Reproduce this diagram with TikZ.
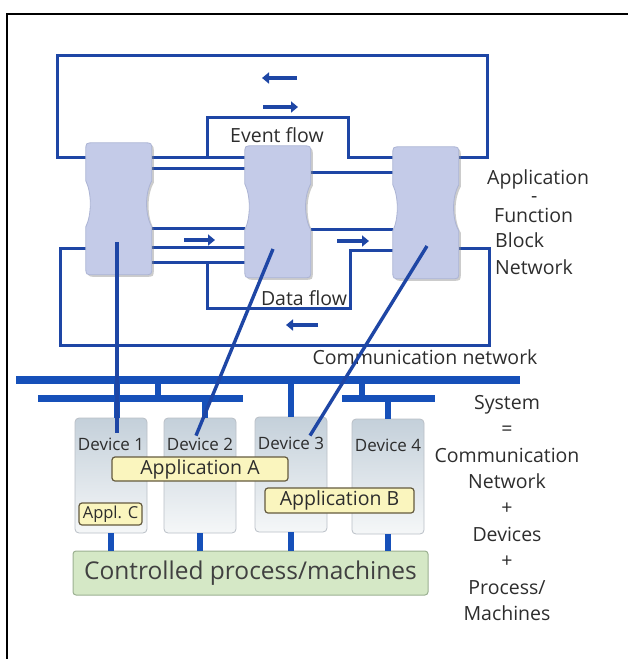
\documentclass[tikz,border=0pt]{standalone}
\usepackage{fontspec}
\setmainfont{Open Sans}
\usetikzlibrary{arrows.meta, positioning, shadows}

\definecolor{netblue}{RGB}{30,70,165}
\definecolor{busblue}{RGB}{22,80,185}
\definecolor{fbfill}{RGB}{196,203,232}
\definecolor{fbline}{RGB}{172,180,212}
\definecolor{devtop}{RGB}{196,208,218}
\definecolor{devbot}{RGB}{245,247,248}
\definecolor{devline}{RGB}{185,191,198}
\definecolor{appfill}{RGB}{250,245,190}
\definecolor{appline}{RGB}{100,90,62}
\definecolor{procfill}{RGB}{213,232,198}
\definecolor{procline}{RGB}{155,176,145}
\definecolor{txtgrey}{RGB}{45,45,45}

\tikzset{
  fbbox/.style={rectangle, draw=none, inner sep=0pt, minimum width=66pt, minimum height=132pt},
  fbshape/.style={fill=fbfill, draw=fbline, line width=0.8pt,
    drop shadow={opacity=0.4, shadow xshift=2pt, shadow yshift=-2pt}},
  flow/.style={netblue, line width=3pt},
  flowarrow/.style={netblue, line width=4pt, -{Triangle[length=7pt, width=11pt]}},
  link/.style={netblue, line width=3.4pt},
  bus/.style={busblue, line width=8pt},
  lan/.style={busblue, line width=7pt},
  stub/.style={busblue, line width=6pt},
  lbl/.style={text=txtgrey, inner sep=0pt, font=\fontsize{19.5}{23}\selectfont},
  device/.style={rectangle, rounded corners=4pt, draw=devline, line width=0.8pt,
    top color=devtop, bottom color=devbot, minimum width=72pt, minimum height=115pt},
  devlbl/.style={text=txtgrey, inner sep=0pt, font=\fontsize{17}{19}\selectfont},
  app/.style={rectangle, rounded corners=3pt, draw=appline, line width=1.2pt, fill=appfill,
    text=txtgrey, inner sep=0pt, font=\fontsize{19.5}{21}\selectfont},
  proc/.style={rectangle, rounded corners=3pt, draw=procline, line width=1pt, fill=procfill,
    text=black!75, inner sep=0pt, minimum width=355pt, minimum height=44pt,
    font=\fontsize{24.5}{27}\selectfont}
}

\begin{document}
\begin{tikzpicture}[x=1pt, y=-1pt]
    \useasboundingbox (0,0) rectangle (628,659);
    % frame
    \draw[black, line width=2.5pt] (7,659) -- (7,14) -- (628,14);

    % function blocks
    \node[fbbox] (fb1) at (119,209) {};
    \node[fbbox] (fb2) at (278,212) {};
    \node[fbbox] (fb3) at (426,213) {};

    % event flow connections
    \draw[flow] (fb1.west |- 0,157) -- (57,157) -- (57,55) -- (487,55) -- (487,157) -- (fb3.east |- 0,157);
    \draw[flow] (fb1.east |- 0,157) -- (fb2.west |- 0,157);
    \draw[flow] (fb1.east |- 0,168) -- (fb2.west |- 0,168);
    \draw[flow] (207,157) -- (207,117) -- (348,117) -- (348,157) -- (fb3.west |- 0,157);
    \draw[flow] (fb2.east |- 0,172) -- (fb3.west |- 0,172);

    % data flow connections
    \draw[flow] (fb1.east |- 0,228) -- (fb2.west |- 0,228);
    \draw[flow] (fb1.east |- 0,247) -- (fb2.west |- 0,247);
    \draw[flow] (fb1.east |- 0,262) -- (fb2.west |- 0,262);
    \draw[flow] (207,262) -- (207,308) -- (350,308) -- (350,250) -- (fb3.west |- 0,250);
    \draw[flow] (fb2.east |- 0,229) -- (fb3.west |- 0,229);
    \draw[flow] (fb1.west |- 0,248) -- (60,248) -- (60,345) -- (489,345) -- (489,248) -- (fb3.east |- 0,248);

    % direction arrows
    \draw[flowarrow] (297,78) -- (262,78);
    \draw[flowarrow] (263,107) -- (298,107);
    \draw[flowarrow] (184,240) -- (215,240);
    \draw[flowarrow] (337,241) -- (369,241);
    \draw[flowarrow] (318,325) -- (286,325);

    % block outlines
    \foreach \n in {fb1,fb2,fb3}{
      \begin{scope}[shift={(\n.north west)}]
        \path[fbshape] (0,8) -- (0,38) .. controls (6,50) and (6,72) .. (0,84) -- (0,124)
          .. controls (0,132) .. (8,132) -- (58,132) .. controls (66,132) .. (66,124)
          -- (66,84) .. controls (59,72) and (59,50) .. (66,38) -- (66,8)
          .. controls (66,0) .. (58,0) -- (8,0) .. controls (0,0) .. (0,8) -- cycle;
      \end{scope}
    }

    % flow labels
    \node[lbl] (evlbl) at (277,135) {Event flow};
    \node[lbl] (dflbl) at (304,298) {Data flow};
    \node[lbl, anchor=north west, align=left] (fbnlbl) at (487,169)
      {Application\\[-5pt]\hspace*{44pt}-\\[-3pt]\hspace*{7pt}Function\\[2pt]\hspace*{8pt}Block\\[4pt]\hspace*{8pt}Network};

    % communication network
    \node[lbl] (netlbl) at (425,357) {Communication network};
    \coordinate (busW) at (16,380);
    \coordinate (busE) at (520,380);
    \coordinate (lanW) at (38,398);
    \coordinate (lanWe) at (243,398);
    \coordinate (lanE) at (342,398);
    \coordinate (lanEe) at (435,398);
    \draw[bus] (busW) -- (busE);
    \draw[lan] (lanW) -- (lanWe);
    \draw[lan] (lanE) -- (lanEe);
    \draw[stub] (158,380) -- (158,398);
    \draw[stub] (362,380) -- (362,398);

    % devices
    \node[device] (dev1) at (111,475.5) {};
    \node[device] (dev2) at (200,475.5) {};
    \node[device] (dev3) at (291,474.5) {};
    \node[device] (dev4) at (388,476.5) {};
    \foreach \d/\t in {dev1/Device 1,dev2/Device 2,dev3/Device 3,dev4/Device 4}
      \node[devlbl] (\d lbl) at ([yshift=-27pt]\d.north) {\t};

    \draw[stub] ([xshift=6pt]dev1.north) -- ([xshift=6pt]dev1.north |- busW);
    \draw[stub] ([xshift=5pt]dev2.north) -- ([xshift=5pt]dev2.north |- lanW);
    \draw[stub] (dev3.north) -- (dev3.north |- busW);
    \draw[stub] (dev4.north) -- (dev4.north |- lanE);

    % applications
    \node[app, minimum width=176pt, minimum height=24pt] (appA) at (200,469) {Application A};
    \node[app, minimum width=149pt, minimum height=25pt] (appB) at (339.5,500.5) {Application B};
    \node[app, minimum width=63pt, minimum height=22pt, font=\fontsize{16.5}{18}\selectfont] (appC) at (110.5,514) {Appl. C};

    % process
    \node[proc] (proc) at (250.5,573) {Controlled process/machines};
    \foreach \d in {dev1,dev2,dev3,dev4}
      \draw[stub] (\d.south) -- (\d.south |- proc.north);

    % system label
    \node[lbl, align=center, font=\fontsize{19.5}{26.4}\selectfont] (syslbl) at (507,508)
      {System\\=\\Communication\\Network\\+\\Devices\\+\\Process/\\Machines};

    % mapping of blocks to devices
    \coordinate (fb1p) at (117,242);
    \coordinate (fb2p) at (273,249);
    \coordinate (fb3p) at (427,246);
    \draw[link] (fb1p) -- ([xshift=6pt, yshift=-15pt]dev1.north);
    \draw[link] (fb2p) -- ([xshift=-4pt, yshift=-18pt]dev2.north);
    \draw[link] (fb3p) -- ([xshift=19pt, yshift=-19pt]dev3.north);
\end{tikzpicture}
\end{document}
